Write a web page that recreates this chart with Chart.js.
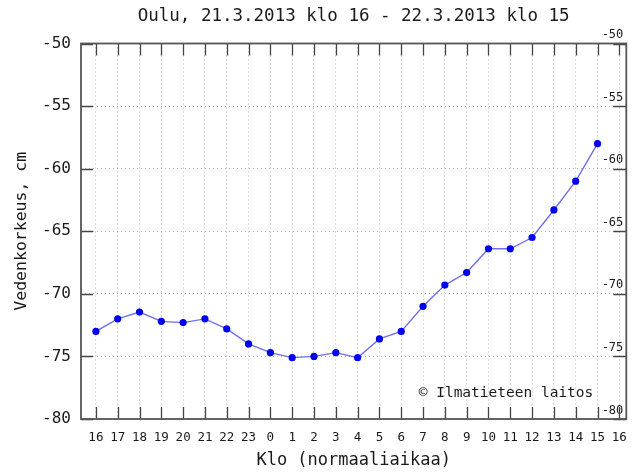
<!DOCTYPE html>
<html>
<head>
<meta charset="utf-8">
<script src="https://cdn.jsdelivr.net/npm/chart.js@4/dist/chart.umd.min.js"></script>
<style>
html,body{margin:0;padding:0;background:#fff;}
#wrap{width:638px;height:473px;}
</style>
</head>
<body>
<div id="wrap"><canvas id="c" width="638" height="473"></canvas></div>
<script>
const titleText = 'Oulu, 21.3.2013 klo 16 - 22.3.2013 klo 15';
const hourLabels = ['16','17','18','19','20','21','22','23','0','1','2','3','4','5','6','7','8','9','10','11','12','13','14','15','16'];
const waterLevel = [-73.0,-72.0,-71.45,-72.2,-72.3,-72.0,-72.8,-74.0,-74.7,-75.1,-75.0,-74.7,-75.1,-73.6,-73.0,-71.0,-69.3,-68.3,-66.4,-66.4,-65.5,-63.3,-61.0,-58.0];
const yTicks = [-80,-75,-70,-65,-60,-55,-50];
const yTickLabels = ['-80','-75','-70','-65','-60','-55','-50'];
const yTitle = 'Vedenkorkeus, cm';
const xTitle = 'Klo (normaaliaikaa)';
const credit = '\u00a9 Ilmatieteen laitos';

const MONO = "'DejaVu Sans Mono', monospace";
const points = waterLevel.map((v, i) => ({x: i, y: v}));

const frame = {
  id: 'frame',
  beforeDatasetsDraw(chart) {
    const {ctx, chartArea: a, scales} = chart;
    ctx.save();
    ctx.strokeStyle = '#444';
    ctx.lineWidth = 1.3;
    ctx.beginPath();
    scales.x.ticks.forEach(t => {
      const px = Math.round(scales.x.getPixelForValue(t.value)) + 0.5;
      ctx.moveTo(px, a.bottom); ctx.lineTo(px, a.bottom - 12);
      ctx.moveTo(px, a.top); ctx.lineTo(px, a.top + 12);
    });
    scales.y.ticks.forEach(t => {
      const py = Math.round(scales.y.getPixelForValue(t.value)) + 0.5;
      ctx.moveTo(a.left, py); ctx.lineTo(a.left + 12, py);
      ctx.moveTo(a.right, py); ctx.lineTo(a.right - 13, py);
    });
    ctx.stroke();
    ctx.strokeStyle = '#555';
    ctx.lineWidth = 1.8;
    ctx.strokeRect(a.left, a.top, a.right - a.left, a.bottom - a.top);
    ctx.restore();
  },
  afterDraw(chart) {
    const {ctx, chartArea: a} = chart;
    ctx.save();
    ctx.font = '14.5px ' + MONO;
    ctx.fillStyle = '#1a1a1a';
    ctx.textAlign = 'right';
    ctx.textBaseline = 'middle';
    ctx.fillText(credit, a.right - 33, a.bottom - 26);
    ctx.restore();
  }
};

const gridDots = {color: '#b4b4b4', lineWidth: 1, drawTicks: false};

new Chart(document.getElementById('c'), {
  type: 'line',
  data: {
    datasets: [{
      data: points,
      borderColor: '#7070ea',
      borderWidth: 1.4,
      pointBackgroundColor: '#0000f0',
      pointBorderColor: '#0000f0',
      pointRadius: 3.6,
      pointBorderWidth: 0,
      tension: 0
    }]
  },
  options: {
    responsive: false,
    animation: false,
    devicePixelRatio: 1,
    layout: {padding: {left: 0, right: 7, top: 0, bottom: 0}},
    plugins: {
      legend: {display: false},
      tooltip: {enabled: false},
      title: {
        display: true,
        text: titleText,
        fullSize: false,
        color: '#1a1a1a',
        font: {family: MONO, size: 17.5, weight: 'normal'},
        padding: {top: 6, bottom: 16.5}
      }
    },
    scales: {
      x: {
        type: 'linear',
        min: -0.683,
        max: 24.32,
        afterBuildTicks(s) { s.ticks = hourLabels.map((_, i) => ({value: i})); },
        afterFit(s) { s.height = 54; },
        grid: {...gridDots},
        border: {display: false, dash: [1, 3]},
        ticks: {
          autoSkip: false, maxRotation: 0,
          padding: 11,
          color: '#1a1a1a',
          font: {family: MONO, size: 12.5},
          callback: (v) => hourLabels[v]
        },
        title: {
          display: true, text: xTitle, color: '#1a1a1a',
          font: {family: MONO, size: 17},
          padding: {top: 0, bottom: 2}
        }
      },
      y: {
        position: 'left',
        min: -80, max: -50,
        afterBuildTicks(s) { s.ticks = yTicks.map(v => ({value: v})); },
        afterFit(s) { s.width = 81; },
        grid: {...gridDots},
        border: {display: false, dash: [1, 3]},
        ticks: {
          padding: 10,
          color: '#1a1a1a',
          font: {family: MONO, size: 16},
          callback: (v) => yTickLabels[yTicks.indexOf(v)]
        },
        title: {
          display: true, text: yTitle, color: '#1a1a1a',
          font: {family: MONO, size: 16.5},
          padding: {top: 12, bottom: 0}
        }
      },
      y2: {
        position: 'right',
        min: -80, max: -50,
        afterBuildTicks(s) { s.ticks = yTicks.map(v => ({value: v})); },
        afterFit(s) { s.width = 0; },
        grid: {display: false, drawTicks: false},
        border: {display: false},
        ticks: {
          mirror: true,
          padding: -3,
          labelOffset: -8.5,
          color: '#1a1a1a',
          font: {family: MONO, size: 12},
          callback: (v) => yTickLabels[yTicks.indexOf(v)]
        }
      }
    }
  },
  plugins: [frame]
});
</script>
</body>
</html>
